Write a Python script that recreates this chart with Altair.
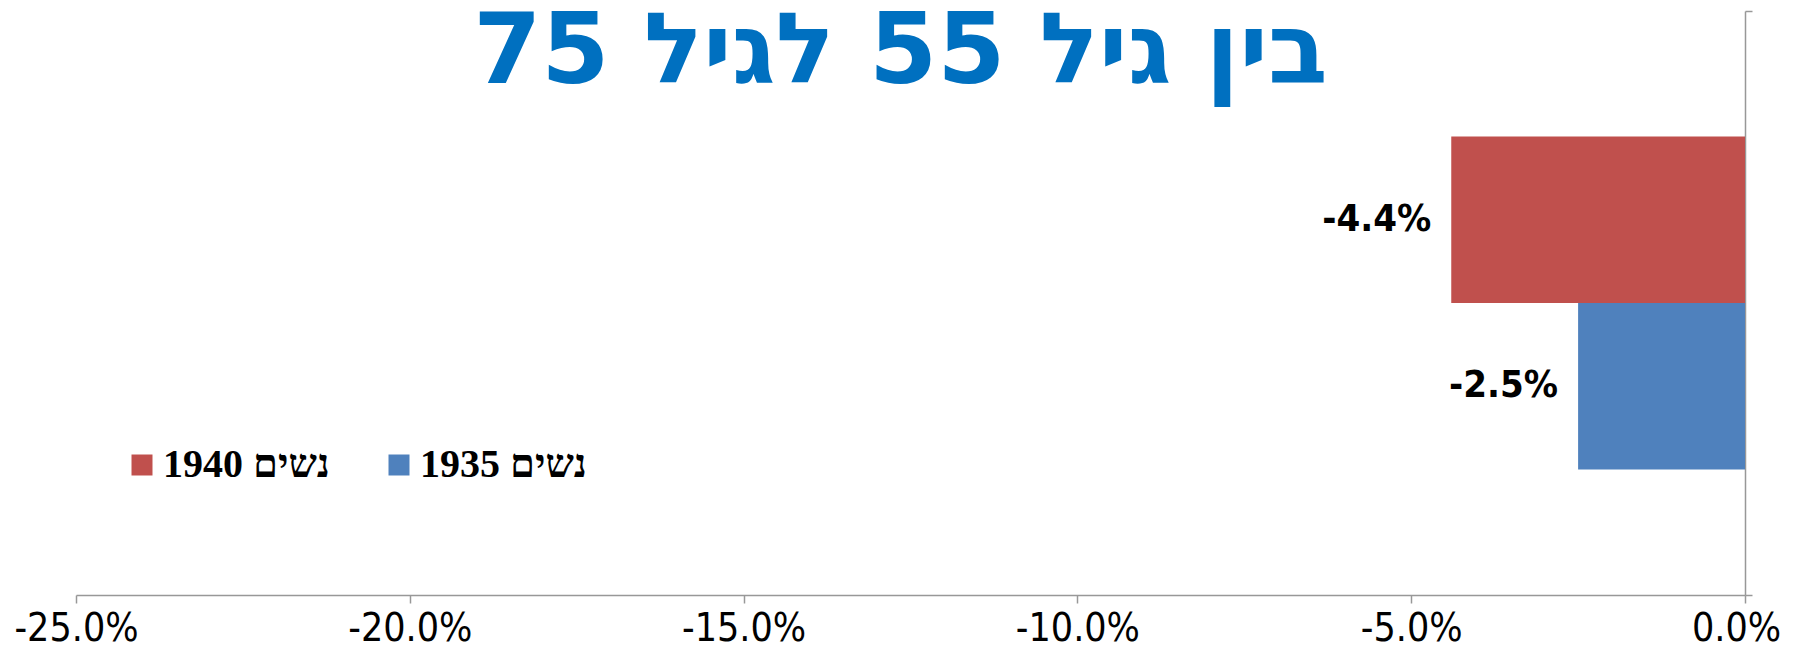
import altair as alt
import pandas as pd

title_text = "בין גיל 55 לגיל 75"
series = ["נשים 1940", "נשים 1935"]
values = [-0.044, -0.025]
colors = ["#C0504D", "#4F81BD"]
category = ["55-75", "55-75"]
tick_values = [-0.25, -0.20, -0.15, -0.10, -0.05, 0.0]

df = pd.DataFrame({"cat": category, "series": series, "value": values})

AX = "#989898"
SANS_C = "DejaVu Sans Condensed, DejaVu Sans, sans-serif"

base = alt.Chart(df).transform_calculate(
    label="replace(format(datum.value, '.1%'), '\u2212', '-')"
).encode(
    y=alt.Y(
        "cat:N",
        scale=alt.Scale(paddingInner=0, paddingOuter=0),
        axis=alt.Axis(orient="right", labels=False, title=None, ticks=True,
                      tickBand="extent", tickSize=7, domainColor=AX, tickColor=AX,
                      domainWidth=1.5, tickWidth=1.5, grid=False),
    ),
    yOffset=alt.YOffset("series:N", sort=series,
                        scale=alt.Scale(paddingInner=0, paddingOuter=0.754)),
    x=alt.X(
        "value:Q",
        scale=alt.Scale(domain=[-0.25, 0], nice=False, zero=False),
        axis=alt.Axis(values=tick_values, title=None, grid=False,
                      labelExpr="replace(format(datum.value, '.1%'), '\u2212', '-')",
                      labelFont=SANS_C, labelFontSize=39, labelColor="black",
                      labelFlush=False, labelOverlap=False,
                      labelBaseline="alphabetic",
                      labelOffset={"condition": {"test": "datum.value === 0", "value": -9}, "value": 0},
                      labelPadding=37, tickSize=8, domainColor=AX, tickColor=AX,
                      domainWidth=1.5, tickWidth=1.5),
    ),
)

bars = base.mark_bar().encode(
    color=alt.Color(
        "series:N",
        scale=alt.Scale(domain=series, range=colors),
        legend=alt.Legend(orient="none", legendX=46, legendY=434,
                          direction="horizontal", title=None, symbolType="square",
                          symbolSize=441, symbolStrokeWidth=0, padding=0,
                          labelFont="Liberation Serif, DejaVu Serif, serif",
                          labelFontSize=40, labelFontWeight="bold",
                          labelColor="black", labelLimit=400, labelOffset=1,
                          columnPadding=49),
    )
)

labels = base.mark_text(align="right", baseline="middle", dx=-20,
                        font=SANS_C, fontSize=38, fontWeight="bold",
                        color="black").encode(text="label:N")

chart = alt.layer(bars, labels).properties(
    width=1669,
    height=584,
    autosize="none",
    padding={"left": 68, "top": 3, "right": 40, "bottom": 54},
    title=alt.TitleParams(text=title_text, font="DejaVu Sans, Liberation Sans, sans-serif",
                          fontSize=98, fontWeight="bold", color="#0070C0",
                          anchor="middle", frame="group", baseline="top",
                          offset=6, dx=-10, dy=100),
).configure_view(stroke=None)

chart.save("out.html", embed_options={"renderer": "svg", "actions": False})
